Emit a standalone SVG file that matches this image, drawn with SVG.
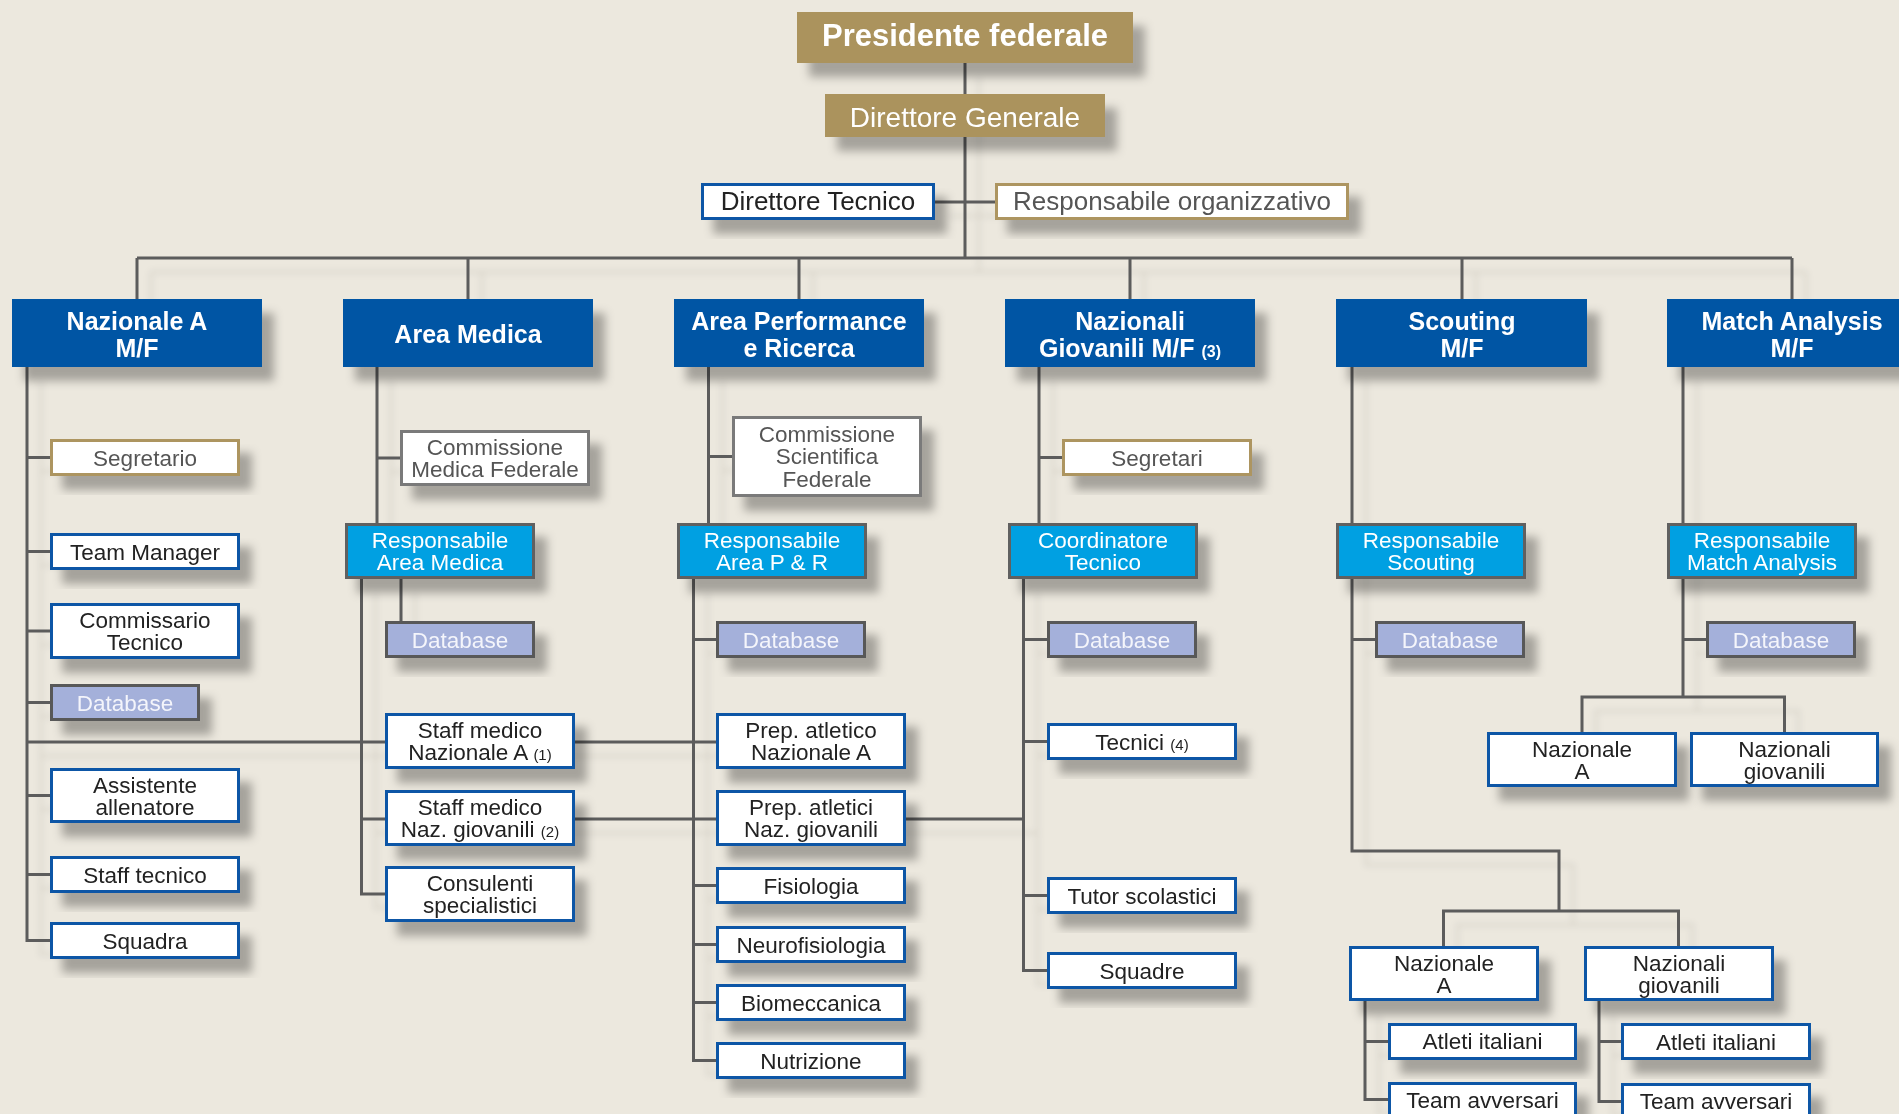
<svg xmlns="http://www.w3.org/2000/svg" width="1899" height="1114" viewBox="0 0 1899 1114">
<defs>
<filter id="sh" x="-20%" y="-30%" width="150%" height="190%">
<feGaussianBlur in="SourceAlpha" stdDeviation="5"/>
<feOffset dx="12" dy="14" result="o"/>
<feFlood flood-color="#000" flood-opacity="0.3"/>
<feComposite in2="o" operator="in"/>
<feMerge><feMergeNode/><feMergeNode in="SourceGraphic"/></feMerge>
</filter>
<filter id="lsh" x="-10%" y="-10%" width="130%" height="130%">
<feGaussianBlur in="SourceAlpha" stdDeviation="3"/>
<feOffset dx="14" dy="14" result="o"/>
<feFlood flood-color="#000" flood-opacity="0.08"/>
<feComposite in2="o" operator="in"/>
<feMerge><feMergeNode/><feMergeNode in="SourceGraphic"/></feMerge>
</filter>
</defs>
<style>
.gold{fill:#ab935d}
.hdr{fill:#0054a4}
.wb{fill:#fff;stroke:#0a56a6;stroke-width:3}
.tb{fill:#fff;stroke:#ad9561;stroke-width:3}
.gb{fill:#fff;stroke:#7a7a7a;stroke-width:3}
.cy{fill:#00a0e2;stroke:#606060;stroke-width:3}
.db{fill:#a4b0da;stroke:#585858;stroke-width:3}
text{font-family:"Liberation Sans",Arial,sans-serif;text-anchor:middle}
.t{font-size:22.5px;fill:#222}
.tg{font-size:22.5px;fill:#555}
.tw{font-size:22.5px;fill:#fff}
.td{font-size:22.5px;fill:#f4f5fb}
.h{font-size:25px;font-weight:bold;fill:#fff}
.sm{font-size:15px}
.con path{fill:none;stroke:#5b5b5b;stroke-width:3}
</style>
<rect width="1899" height="1114" fill="#ece8de"/>

<g id="connectors" class="con" filter="url(#lsh)">
<path d="M965 63V258M935 202H995M137 258H1792M137 258V299M468 258V299M799 258V299M1130 258V299M1462 258V299M1792 258V299"/>
<path d="M27 367V940.5H50M27 457.5H50M27 551.5H50M27 631H50M27 702.5H50M27 795.5H50M27 874.5H50M27 742H716"/>
<path d="M377 367V523M377 458H400M401 579V621M361.5 579V894H385M361.5 819H1023.5"/>
<path d="M708.5 367V523M708.5 456.5H732M693.5 579V1060.5H716M693.5 639.5H716M693.5 885.5H716M693.5 944.5H716M693.5 1002.5H716"/>
<path d="M1039 367V523M1039 457.5H1062M1023.5 579V970.5H1047M1023.5 639.5H1047M1023.5 741.5H1047M1023.5 895.5H1047"/>
<path d="M1352 367V851H1559V911M1443.5 946V911H1678.5V946M1352 639.5H1375M1365 1001V1099.5H1388M1365 1041.5H1388M1599 1001V1101.5H1621M1599 1041.5H1621"/>
<path d="M1683 367V697M1582 732V697H1784.5V732M1683 639.5H1706"/>
</g>

<g id="presidente" filter="url(#sh)"><rect class="gold" x="797" y="12" width="336" height="51"/><text x="965" y="46" style="font-size:31px;font-weight:bold;fill:#fff">Presidente federale</text></g>
<g id="direttore-generale" filter="url(#sh)"><rect class="gold" x="825" y="94" width="280" height="43"/><text x="965" y="127" style="font-size:28px;fill:#fff">Direttore Generale</text></g>
<g id="direttore-tecnico" filter="url(#sh)"><rect class="wb" x="702.5" y="184.5" width="231" height="34"/><text x="818" y="210" style="font-size:26px;fill:#222">Direttore Tecnico</text></g>
<g id="resp-organizzativo" filter="url(#sh)"><rect class="tb" x="996.5" y="184.5" width="351" height="34"/><text x="1172" y="210" style="font-size:26px;fill:#555">Responsabile organizzativo</text></g>

<g id="h-nazionale-a" filter="url(#sh)"><rect class="hdr" x="12" y="299" width="250" height="68"/><text class="h" x="137" y="330">Nazionale A</text><text class="h" x="137" y="357">M/F</text></g>
<g id="h-area-medica" filter="url(#sh)"><rect class="hdr" x="343" y="299" width="250" height="68"/><text class="h" x="468" y="343">Area Medica</text></g>
<g id="h-area-performance" filter="url(#sh)"><rect class="hdr" x="674" y="299" width="250" height="68"/><text class="h" x="799" y="330">Area Performance</text><text class="h" x="799" y="357">e Ricerca</text></g>
<g id="h-nazionali-giovanili" filter="url(#sh)"><rect class="hdr" x="1005" y="299" width="250" height="68"/><text class="h" x="1130" y="330">Nazionali</text><text class="h" x="1130" y="357">Giovanili M/F <tspan style="font-size:16px">(3)</tspan></text></g>
<g id="h-scouting" filter="url(#sh)"><rect class="hdr" x="1336" y="299" width="251" height="68"/><text class="h" x="1462" y="330">Scouting</text><text class="h" x="1462" y="357">M/F</text></g>
<g id="h-match-analysis" filter="url(#sh)"><rect class="hdr" x="1667" y="299" width="250" height="68"/><text class="h" x="1792" y="330">Match Analysis</text><text class="h" x="1792" y="357">M/F</text></g>

<g id="c1-segretario" filter="url(#sh)"><rect class="tb" x="51.5" y="440.5" width="187" height="34"/><text class="tg" x="145" y="465.5">Segretario</text></g>
<g id="c1-team-manager" filter="url(#sh)"><rect class="wb" x="51.5" y="534.5" width="187" height="34"/><text class="t" x="145" y="559.5">Team Manager</text></g>
<g id="c1-commissario" filter="url(#sh)"><rect class="wb" x="51.5" y="604.5" width="187" height="53"/><text class="t" x="145" y="627.5">Commissario</text><text class="t" x="145" y="650">Tecnico</text></g>
<g id="c1-database" filter="url(#sh)"><rect class="db" x="51.5" y="685.5" width="147" height="34"/><text class="td" x="125" y="710.5">Database</text></g>
<g id="c1-assistente" filter="url(#sh)"><rect class="wb" x="51.5" y="769.5" width="187" height="52"/><text class="t" x="145" y="792.5">Assistente</text><text class="t" x="145" y="815">allenatore</text></g>
<g id="c1-staff-tecnico" filter="url(#sh)"><rect class="wb" x="51.5" y="857.5" width="187" height="34"/><text class="t" x="145" y="882.5">Staff tecnico</text></g>
<g id="c1-squadra" filter="url(#sh)"><rect class="wb" x="51.5" y="923.5" width="187" height="34"/><text class="t" x="145" y="948.5">Squadra</text></g>

<g id="c2-commissione" filter="url(#sh)"><rect class="gb" x="401.5" y="431.5" width="187" height="53"/><text class="tg" x="495" y="454.5">Commissione</text><text class="tg" x="495" y="477">Medica Federale</text></g>
<g id="c2-responsabile" filter="url(#sh)"><rect class="cy" x="346.5" y="524.5" width="187" height="53"/><text class="tw" x="440" y="547.5">Responsabile</text><text class="tw" x="440" y="570">Area Medica</text></g>
<g id="c2-database" filter="url(#sh)"><rect class="db" x="386.5" y="622.5" width="147" height="34"/><text class="td" x="460" y="647.5">Database</text></g>
<g id="c2-staff-naz-a" filter="url(#sh)"><rect class="wb" x="386.5" y="714.5" width="187" height="53"/><text class="t" x="480" y="737.5">Staff medico</text><text class="t" x="480" y="760">Nazionale A <tspan class="sm">(1)</tspan></text></g>
<g id="c2-staff-giovanili" filter="url(#sh)"><rect class="wb" x="386.5" y="791.5" width="187" height="53"/><text class="t" x="480" y="814.5">Staff medico</text><text class="t" x="480" y="837">Naz. giovanili <tspan class="sm">(2)</tspan></text></g>
<g id="c2-consulenti" filter="url(#sh)"><rect class="wb" x="386.5" y="867.5" width="187" height="53"/><text class="t" x="480" y="890.5">Consulenti</text><text class="t" x="480" y="913">specialistici</text></g>

<g id="c3-commissione" filter="url(#sh)"><rect class="gb" x="733.5" y="417.5" width="187" height="78"/><text class="tg" x="827" y="441.5">Commissione</text><text class="tg" x="827" y="464">Scientifica</text><text class="tg" x="827" y="486.5">Federale</text></g>
<g id="c3-responsabile" filter="url(#sh)"><rect class="cy" x="678.5" y="524.5" width="187" height="53"/><text class="tw" x="772" y="547.5">Responsabile</text><text class="tw" x="772" y="570">Area P &amp; R</text></g>
<g id="c3-database" filter="url(#sh)"><rect class="db" x="717.5" y="622.5" width="147" height="34"/><text class="td" x="791" y="647.5">Database</text></g>
<g id="c3-prep-naz-a" filter="url(#sh)"><rect class="wb" x="717.5" y="714.5" width="187" height="53"/><text class="t" x="811" y="737.5">Prep. atletico</text><text class="t" x="811" y="760">Nazionale A</text></g>
<g id="c3-prep-giovanili" filter="url(#sh)"><rect class="wb" x="717.5" y="791.5" width="187" height="53"/><text class="t" x="811" y="814.5">Prep. atletici</text><text class="t" x="811" y="837">Naz. giovanili</text></g>
<g id="c3-fisiologia" filter="url(#sh)"><rect class="wb" x="717.5" y="868.5" width="187" height="34"/><text class="t" x="811" y="893.5">Fisiologia</text></g>
<g id="c3-neurofisiologia" filter="url(#sh)"><rect class="wb" x="717.5" y="927.5" width="187" height="34"/><text class="t" x="811" y="952.5">Neurofisiologia</text></g>
<g id="c3-biomeccanica" filter="url(#sh)"><rect class="wb" x="717.5" y="985.5" width="187" height="34"/><text class="t" x="811" y="1010.5">Biomeccanica</text></g>
<g id="c3-nutrizione" filter="url(#sh)"><rect class="wb" x="717.5" y="1043.5" width="187" height="34"/><text class="t" x="811" y="1068.5">Nutrizione</text></g>

<g id="c4-segretari" filter="url(#sh)"><rect class="tb" x="1063.5" y="440.5" width="187" height="34"/><text class="tg" x="1157" y="465.5">Segretari</text></g>
<g id="c4-coordinatore" filter="url(#sh)"><rect class="cy" x="1009.5" y="524.5" width="187" height="53"/><text class="tw" x="1103" y="547.5">Coordinatore</text><text class="tw" x="1103" y="570">Tecnico</text></g>
<g id="c4-database" filter="url(#sh)"><rect class="db" x="1048.5" y="622.5" width="147" height="34"/><text class="td" x="1122" y="647.5">Database</text></g>
<g id="c4-tecnici" filter="url(#sh)"><rect class="wb" x="1048.5" y="724.5" width="187" height="34"/><text class="t" x="1142" y="749.5">Tecnici <tspan class="sm">(4)</tspan></text></g>
<g id="c4-tutor" filter="url(#sh)"><rect class="wb" x="1048.5" y="878.5" width="187" height="34"/><text class="t" x="1142" y="903.5">Tutor scolastici</text></g>
<g id="c4-squadre" filter="url(#sh)"><rect class="wb" x="1048.5" y="953.5" width="187" height="34"/><text class="t" x="1142" y="978.5">Squadre</text></g>

<g id="c5-responsabile" filter="url(#sh)"><rect class="cy" x="1337.5" y="524.5" width="187" height="53"/><text class="tw" x="1431" y="547.5">Responsabile</text><text class="tw" x="1431" y="570">Scouting</text></g>
<g id="c5-database" filter="url(#sh)"><rect class="db" x="1376.5" y="622.5" width="147" height="34"/><text class="td" x="1450" y="647.5">Database</text></g>
<g id="c5-nazionale-a" filter="url(#sh)"><rect class="wb" x="1350.5" y="947.5" width="187" height="52"/><text class="t" x="1444" y="970.5">Nazionale</text><text class="t" x="1444" y="993">A</text></g>
<g id="c5-nazionali-giovanili" filter="url(#sh)"><rect class="wb" x="1585.5" y="947.5" width="187" height="52"/><text class="t" x="1679" y="970.5">Nazionali</text><text class="t" x="1679" y="993">giovanili</text></g>
<g id="c5-a-atleti" filter="url(#sh)"><rect class="wb" x="1389.5" y="1024.5" width="186" height="34"/><text class="t" x="1482.5" y="1048.5">Atleti italiani</text></g>
<g id="c5-a-avversari" filter="url(#sh)"><rect class="wb" x="1389.5" y="1083.5" width="186" height="34"/><text class="t" x="1482.5" y="1108">Team avversari</text></g>
<g id="c5-g-atleti" filter="url(#sh)"><rect class="wb" x="1622.5" y="1024.5" width="187" height="34"/><text class="t" x="1716" y="1049.5">Atleti italiani</text></g>
<g id="c5-g-avversari" filter="url(#sh)"><rect class="wb" x="1622.5" y="1084.5" width="187" height="34"/><text class="t" x="1716" y="1109">Team avversari</text></g>

<g id="c6-responsabile" filter="url(#sh)"><rect class="cy" x="1668.5" y="524.5" width="187" height="53"/><text class="tw" x="1762" y="547.5">Responsabile</text><text class="tw" x="1762" y="570">Match Analysis</text></g>
<g id="c6-database" filter="url(#sh)"><rect class="db" x="1707.5" y="622.5" width="147" height="34"/><text class="td" x="1781" y="647.5">Database</text></g>
<g id="c6-nazionale-a" filter="url(#sh)"><rect class="wb" x="1488.5" y="733.5" width="187" height="52"/><text class="t" x="1582" y="756.5">Nazionale</text><text class="t" x="1582" y="779">A</text></g>
<g id="c6-nazionali-giovanili" filter="url(#sh)"><rect class="wb" x="1691.5" y="733.5" width="186" height="52"/><text class="t" x="1784.5" y="756.5">Nazionali</text><text class="t" x="1784.5" y="779">giovanili</text></g>
</svg>
